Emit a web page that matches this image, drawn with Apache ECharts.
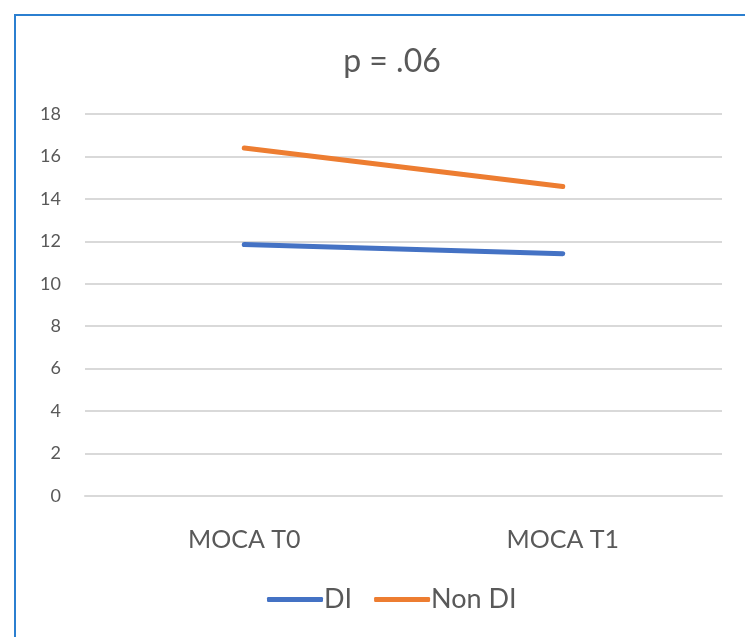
<!DOCTYPE html>
<html><head><meta charset="utf-8">
<script src="https://cdn.jsdelivr.net/npm/echarts@6/dist/echarts.min.js"></script>
<style>
html,body{margin:0;padding:0;background:#fff;}
#frame{position:absolute;left:14px;top:14px;width:740px;height:640px;border-top:2px solid #2b7fd0;border-left:2px solid #2b7fd0;}
#c{position:absolute;left:0;top:0;width:745px;height:637px;}
</style></head>
<body>
<div id="frame"></div>
<div id="c"></div>
<script>
var categories = ['MOCA T0', 'MOCA T1'];
var diValues = [11.85, 11.42];
var nonDiValues = [16.4, 14.58];
var yTicks = [0, 2, 4, 6, 8, 10, 12, 14, 16, 18];
var seriesNames = ['DI', 'Non DI'];
var titleText = 'p = .06';

var chart = echarts.init(document.getElementById('c'));
var font = 'Lato, "Liberation Sans", sans-serif';
chart.setOption({
  animation: false,
  title: { text: titleText, left: 387, top: 41, textAlign: 'center',
    textStyle: { fontFamily: font, fontSize: 32, fontWeight: 'normal', color: '#595959' } },
  grid: { left: 85, right: 23, top: 114, bottom: 141, containLabel: false },
  legend: {
    data: seriesNames, bottom: 19, left: 262, itemWidth: 56, itemHeight: 5, itemGap: 22,
    icon: 'roundRect',
    textStyle: { fontFamily: font, fontSize: 27, color: '#595959', padding: [0,0,0,-4] }
  },
  xAxis: {
    type: 'category', data: categories, boundaryGap: true,
    axisLine: { show: true, lineStyle: { color: '#d9d9d9', width: 2 } },
    axisTick: { show: false },
    axisLabel: { fontFamily: font, fontSize: 25, color: '#595959', margin: 31 }
  },
  yAxis: {
    type: 'value', min: yTicks[0], max: yTicks[yTicks.length-1], interval: 2,
    axisLine: { show: false }, axisTick: { show: false },
    splitLine: { lineStyle: { color: '#d9d9d9', width: 2 } },
    axisLabel: { fontFamily: font, fontSize: 18, color: '#595959', margin: 24 }
  },
  series: [
    { name: seriesNames[0], type: 'line', data: diValues, symbol: 'none',
      itemStyle: { color: '#4472c4' }, lineStyle: { color: '#4472c4', width: 5, cap: 'round' } },
    { name: seriesNames[1], type: 'line', data: nonDiValues, symbol: 'none',
      itemStyle: { color: '#ed7d31' }, lineStyle: { color: '#ed7d31', width: 5, cap: 'round' } }
  ]
});
</script>
</body></html>
